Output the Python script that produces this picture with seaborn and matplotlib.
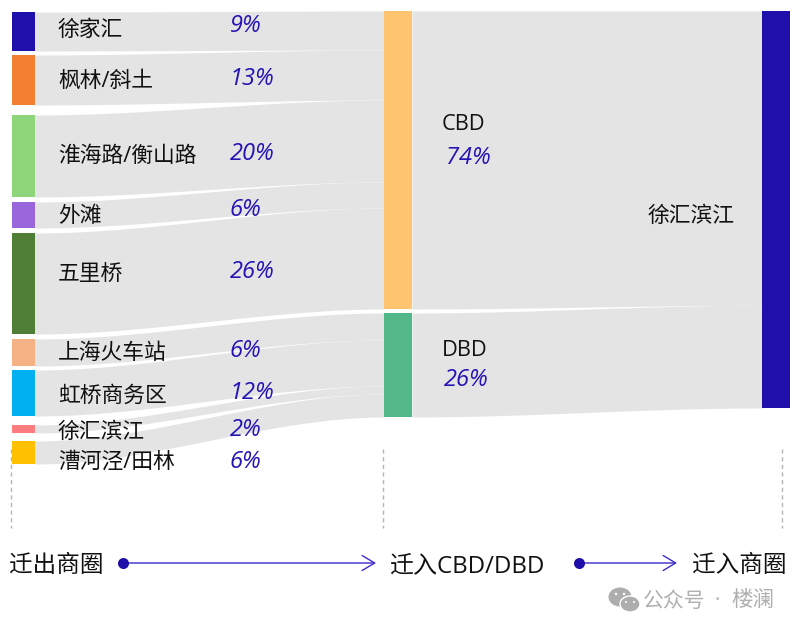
import numpy as np
import pandas as pd
import matplotlib
matplotlib.use("Agg")
import matplotlib.pyplot as plt
import seaborn as sns
from matplotlib.patches import Ellipse

# ======================================
# DATA
# ======================================

source_names = ["徐家汇", "枫林/斜土", "淮海路/衡山路", "外滩", "五里桥",
                "上海火车站", "虹桥商务区", "徐汇滨江", "漕河泾/田林"]
source_labels = ["9%", "13%", "20%", "6%", "26%", "6%", "12%", "2%", "6%"]
# band sizes, slightly finer than the printed labels
source_values = [9.75, 12.5, 20.5, 6.5, 25.25, 6.75, 11.5, 2.0, 5.75]
source_target = ["CBD", "CBD", "CBD", "CBD", "CBD", "DBD", "DBD", "DBD", "DBD"]
source_colors = ["#2010ab", "#f37f33", "#8fd67a", "#9966db", "#4f7f35",
                 "#f4b183", "#00b0f0", "#ff7c80", "#ffc000"]

mid_names = ["CBD", "DBD"]
mid_labels = ["74%", "26%"]
mid_colors = ["#ffc46f", "#52b88a"]

sink_name = "徐汇滨江"
sink_color = "#2010ab"

stage_names = ["迁出商圈", "迁入CBD/DBD", "迁入商圈"]

# ======================================
# LAYOUT (pixels of the 800x632 canvas)
# ======================================

source_gaps = [4, 10, 5, 5, 5, 4, 9, 8]
source_top = 12
mid_top = 11
mid_gap = 4
sink_top = 11
px_left = 4.0
px_right = 3.95

col_source = (11.5, 34.5)
col_mid = (384, 412)
col_sink = (762, 790)

source_label_y = [30, 81, 156, 216, 274, 353, 396, 432, 462]
source_pct_y = [26, 79, 154, 210, 272, 351, 393, 430, 462]

BLUE = "#2414b4"
FLOW = "#e4e4e4"
TEXT_FONT = ["Open Sans", "Noto Sans CJK SC", "DejaVu Sans"]

sns.set_theme(style="white")
plt.rcParams["font.family"] = TEXT_FONT

df = pd.DataFrame({
    "name": source_names,
    "value": source_values,
    "target": source_target,
    "color": source_colors,
})
df["height"] = df["value"] * px_left
df["top"] = source_top + df["height"].cumsum().shift(fill_value=0) + np.cumsum([0] + source_gaps)

mid = df.groupby("target")["value"].sum().reindex(mid_names)
mid_heights = mid.values * px_left
mid_tops = [mid_top, mid_top + mid_heights[0] + mid_gap]

fig = plt.figure(figsize=(8, 6.32), dpi=100)
ax = fig.add_axes([0, 0, 1, 1])


def draw_flow(x0, x1, y0, h0, y1, h1):
    xs = np.linspace(x0, x1, 200)
    t = (xs - x0) / (x1 - x0)
    s = t * t * (3 - 2 * t)
    upper = y0 + (y1 - y0) * s
    lower = (y0 + h0) + (y1 + h1 - y0 - h0) * s
    ax.fill_between(xs, upper, lower, color=FLOW, linewidth=0, zorder=1)


def draw_node(col, top, height, color):
    sns.barplot(x=[(col[0] + col[1]) / 2], y=[height], bottom=top, color=color,
                native_scale=True, width=col[1] - col[0], saturation=1,
                linewidth=0, zorder=3, ax=ax)


# ======================================
# FLOWS
# ======================================

for i, name in enumerate(mid_names):
    rows = df[df["target"] == name]
    y = mid_tops[i]
    for _, r in rows.iterrows():
        draw_flow(col_source[1], col_mid[0], r["top"], r["height"], y, r["height"])
        y += r["height"]

y = sink_top
for i in range(len(mid_names)):
    h = mid.values[i] * px_right
    draw_flow(col_mid[1], col_sink[0], mid_tops[i], mid_heights[i], y, h)
    y += h

# ======================================
# NODES
# ======================================

for _, r in df.iterrows():
    draw_node(col_source, r["top"], r["height"], r["color"])
for i in range(len(mid_names)):
    draw_node(col_mid, mid_tops[i], mid_heights[i], mid_colors[i])
draw_node(col_sink, sink_top, mid.sum() * px_right, sink_color)

# ======================================
# TEXT
# ======================================

for name, ly, pct, py in zip(source_names, source_label_y, source_labels, source_pct_y):
    ax.text(58, ly, name, fontsize=15.7, color="#111111", ha="left", va="center", zorder=5)
    ax.text(229.5, py, pct, fontsize=17, color=BLUE, style="italic", family="Open Sans",
            ha="left", va="center", zorder=5)

ax.text(442, 125, mid_names[0], fontsize=15.7, color="#111111", va="center", zorder=5)
ax.text(446, 158, mid_labels[0], fontsize=17, color=BLUE, style="italic", family="Open Sans",
        va="center", zorder=5)
ax.text(442, 351, mid_names[1], fontsize=15.7, color="#111111", va="center", zorder=5)
ax.text(444, 380, mid_labels[1], fontsize=17, color=BLUE, style="italic", family="Open Sans",
        va="center", zorder=5)
ax.text(648, 216, sink_name, fontsize=15.7, color="#111111", va="center", zorder=5)

# ======================================
# STAGE GUIDES AND ARROWS
# ======================================

for x in [11, 383, 782]:
    ax.plot([x, x], [449, 528], color="#b5b5b5", lw=1, ls=(0, (3, 2.5)), zorder=2)

ax.text(9, 566, stage_names[0], fontsize=17, color="#111111", va="center")
ax.text(389, 566, stage_names[1], fontsize=17.3, color="#111111", va="center")
ax.text(692, 566, stage_names[2], fontsize=17, color="#111111", va="center")

for x0, x1 in [(123, 376), (579, 677)]:
    ax.annotate("", xy=(x1, 563), xytext=(x0, 563),
                arrowprops=dict(arrowstyle="->,head_length=0.75,head_width=0.45",
                                color="#3a2ccc", lw=1, shrinkA=0, shrinkB=0))
sns.scatterplot(x=[123, 579], y=[563, 563], color="#1f0fa8", s=63, linewidth=0,
                legend=False, zorder=6, ax=ax)

# ======================================
# WATERMARK
# ======================================

ax.add_patch(Ellipse((620, 597), 23, 19, color="#adadad", lw=0, zorder=5))
ax.add_patch(Ellipse((630, 604), 20, 16, facecolor="#adadad", edgecolor="white", lw=1, zorder=6))
for ex, ey, er in [(616, 594, 2.5), (624, 594, 2.5), (626, 602, 2), (634, 602, 2)]:
    ax.add_patch(Ellipse((ex, ey), er, er, color="white", lw=0, zorder=7))
ax.text(643, 601, "公众号", fontsize=15, color="#b0b0b0", va="center")
ax.text(717, 601, "·", fontsize=15, color="#b0b0b0", ha="center", va="center")
ax.text(731, 601, "楼澜", fontsize=15.5, color="#b0b0b0", va="center")

ax.set_xlim(0, 800)
ax.set_ylim(632, 0)
ax.set_axis_off()

fig.savefig("out.png", dpi=100)
